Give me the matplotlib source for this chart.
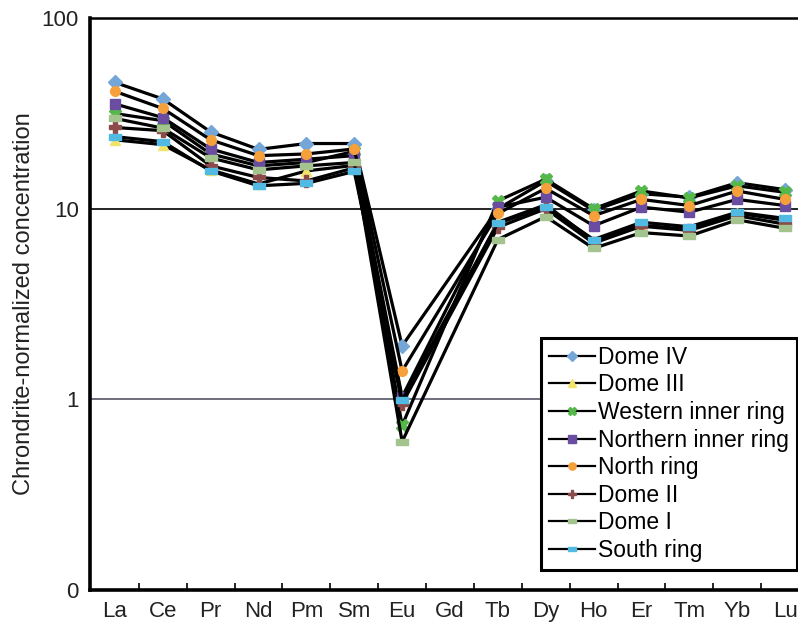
import numpy as np
import matplotlib
matplotlib.use("Agg")
import matplotlib.pyplot as plt
from matplotlib.ticker import FixedLocator, NullFormatter

plt.rcParams["font.family"] = ["Liberation Sans", "DejaVu Sans"]

# REE elements on the x axis (Gd has no data)
elements = ["La", "Ce", "Pr", "Nd", "Pm", "Sm", "Eu", "Gd", "Tb", "Dy", "Ho", "Er", "Tm", "Yb", "Lu"]
measured = ["La", "Ce", "Pr", "Nd", "Pm", "Sm", "Eu", "Tb", "Dy", "Ho", "Er", "Tm", "Yb", "Lu"]

# chondrite-normalized values
dome_iv = [46.0, 37.7, 25.3, 20.5, 22.0, 22.0, 1.91, 10.0, 14.0, 9.8, 12.0, 11.5, 13.7, 12.6]
dome_iii = [23.0, 21.7, 16.0, 13.5, 15.8, 16.9, 1.00, 8.5, 10.5, 6.8, 8.2, 7.8, 9.5, 8.7]
western_inner = [31.6, 29.0, 19.4, 16.8, 17.5, 20.0, 0.73, 11.0, 14.3, 10.0, 12.4, 11.4, 13.2, 12.2]
northern_inner = [35.5, 30.1, 20.6, 17.5, 18.2, 19.0, 1.03, 10.2, 11.5, 8.15, 10.2, 9.6, 11.2, 10.4]
north_ring = [41.3, 33.6, 23.0, 19.0, 19.4, 20.6, 1.41, 9.45, 12.8, 9.2, 11.2, 10.4, 12.4, 11.2]
dome_ii = [26.7, 25.7, 16.8, 14.6, 14.0, 16.4, 0.95, 8.0, 10.0, 6.6, 8.1, 7.7, 9.2, 8.3]
dome_i = [29.8, 26.5, 18.5, 16.0, 16.8, 17.5, 0.60, 6.9, 9.1, 6.2, 7.5, 7.2, 8.75, 7.9]
south_ring = [23.9, 22.5, 15.8, 13.2, 13.6, 15.7, 0.99, 8.4, 10.2, 6.9, 8.5, 8.05, 9.6, 8.9]

names = ["Dome IV", "Dome III", "Western inner ring", "Northern inner ring",
         "North ring", "Dome II", "Dome I", "South ring"]
series = [dome_iv, dome_iii, western_inner, northern_inner, north_ring, dome_ii, dome_i, south_ring]

wide_rect = [(-1.3, -0.6), (1.3, -0.6), (1.3, 0.6), (-1.3, 0.6), (-1.3, -0.6)]
styles = [
    dict(marker="D", color="#74a7d8", ms=7),
    dict(marker="^", color="#f2e46a", ms=7),
    dict(marker="X", color="#55b848", ms=8),
    dict(marker="s", color="#6a4da0", ms=7),
    dict(marker="o", color="#f6a03c", ms=7),
    dict(marker="P", color="#8c4b4b", ms=8),
    dict(marker=wide_rect, color="#a3c48e", ms=8.5),
    dict(marker=wide_rect, color="#52b9e2", ms=8.5),
]

fig = plt.figure(figsize=(7.98, 6.27), dpi=100)
ax = fig.add_axes([0.1128, 0.059, 0.8872, 0.912])

xpos = [elements.index(e) for e in measured]
for name, vals, st in zip(names, series, styles):
    ax.plot(xpos, vals, color="black", lw=2.3, marker=st["marker"], ms=st["ms"],
            markerfacecolor=st["color"], markeredgecolor=st["color"], label=name)

ax.set_yscale("log")
ax.set_ylim(0.1, 100)
ax.set_xlim(-0.52, 14.27)

ax.yaxis.set_major_locator(FixedLocator([0.1, 1, 10, 100]))
ax.yaxis.set_minor_locator(FixedLocator([]))
ax.set_yticklabels(["0", "1", "10", "100"])
ax.tick_params(axis="y", length=0, labelsize=16, colors="#222222", pad=8)

ax.set_xticks(range(len(elements)))
ax.set_xticklabels(elements)
ax.xaxis.set_minor_locator(FixedLocator(np.arange(len(elements)) + 0.5))
ax.xaxis.set_minor_formatter(NullFormatter())
ax.tick_params(axis="x", which="major", length=0, labelsize=16, colors="#222222", pad=8)
ax.tick_params(axis="x", which="minor", direction="in", length=5, width=1.2)

ax.axhline(10, color="black", lw=1.2, zorder=0)
ax.axhline(1, color="#555566", lw=1.2, zorder=0)

ax.spines["right"].set_visible(False)
ax.spines["left"].set_linewidth(2.6)
ax.spines["bottom"].set_linewidth(2.6)
ax.spines["top"].set_linewidth(1.8)

ax.set_ylabel("Chrondrite-normalized concentration", fontsize=17, color="#222222", labelpad=5)

leg = ax.legend(loc="lower left", bbox_to_anchor=(0.637, 0.035), fontsize=16.5, frameon=True,
                fancybox=False, framealpha=1, edgecolor="black", handlelength=2.0,
                handletextpad=0.15, labelspacing=0.2, borderpad=0.35, borderaxespad=0,
                markerscale=0.75)
leg.get_frame().set_linewidth(2.2)
for line in leg.get_lines():
    line.set_linewidth(1.6)

fig.savefig("out.png", dpi=100)
